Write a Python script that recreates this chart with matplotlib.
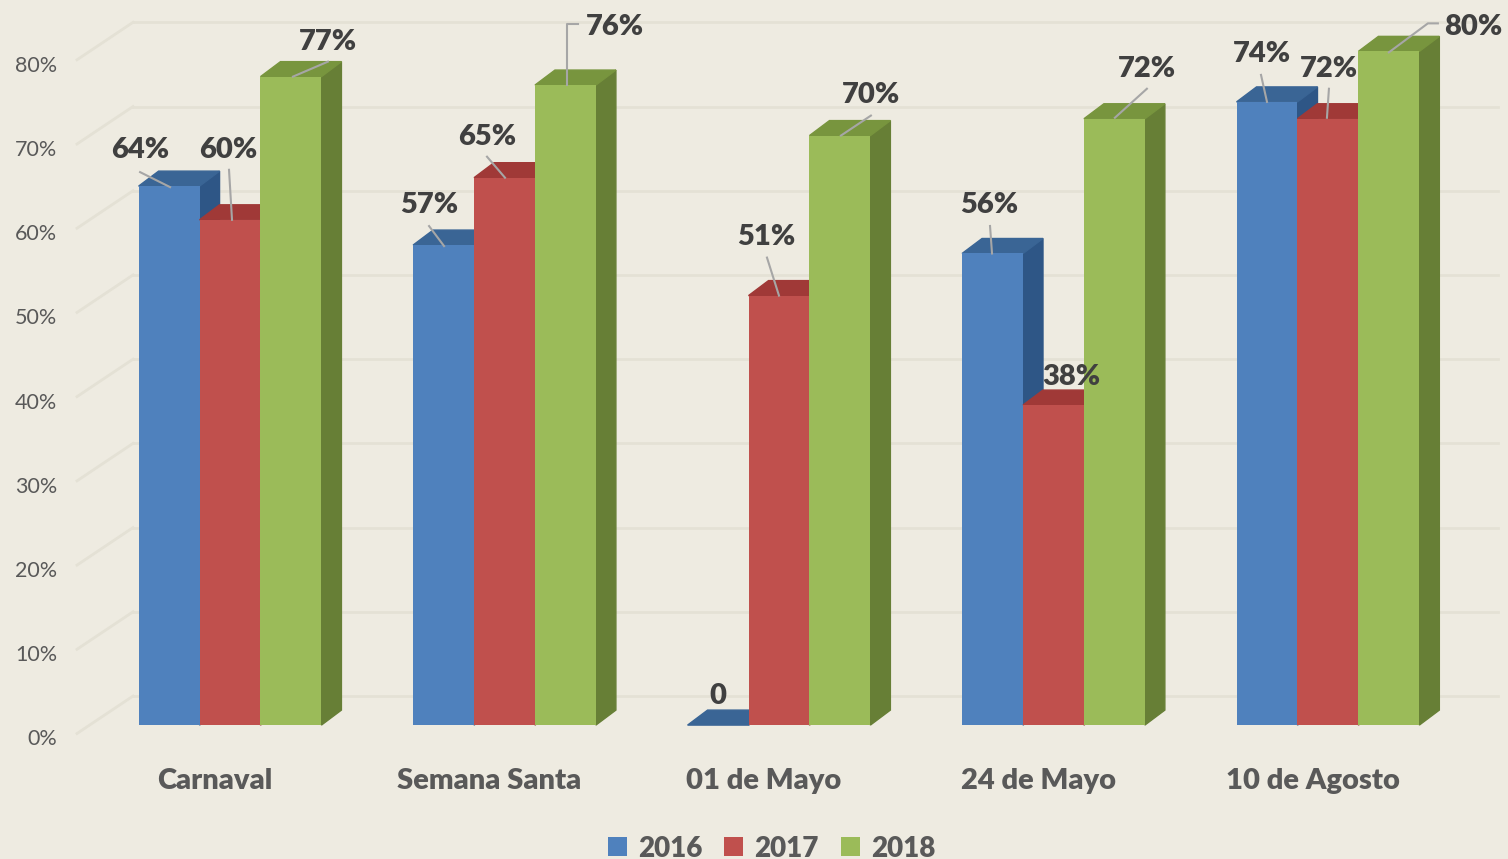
import matplotlib.pyplot as plt
import numpy as np
from matplotlib.patches import Polygon, Patch

plt.rcParams['font.family'] = ['Lato', 'DejaVu Sans']

# dados
categorias = ['Carnaval', 'Semana Santa', '01 de Mayo', '24 de Mayo', '10 de Agosto']
anos = ['2016', '2017', '2018']
valores_2016 = [64, 57, 0, 56, 74]
valores_2017 = [60, 65, 51, 38, 72]
valores_2018 = [77, 76, 70, 72, 80]
ticks_y = [0, 10, 20, 30, 40, 50, 60, 70, 80]

cores_frente = ['#4F81BD', '#C0504D', '#9BBB59']
cores_topo = ['#3A6595', '#A03937', '#78953E']
cores_lado = ['#2E5686', '#8A2E2B', '#677F36']

# posicao dos rotulos (pixels, relativo ao topo da barra)
rotulos_pos = [
    [(-29, -38), (-14.5, -42), (0, -31), (-3.5, -50.5), (-5, -50)],
    [(-2, -72), (-17.5, -43), (-13, -61), (17.5, -30), (1, -52)],
    [(37, -37), (49.5, -60), (31, -43), (32.5, -52), (84, -26)],
]
guias = [
    [[(-29, -14), (1, 1)], [(-14.5, -19), (0.5, 1)], None, [(-2.5, -27.5), (-0.5, 0)], [(-6, -27), (0, 0)]],
    [[(-1, -50), (2, 0)], [(-17.5, -21), (0.5, 0)], [(-12, -38), (0, 0)], None, [(1, -30), (-1, -1)]],
    [[(37, -15), (2, 0)], [(12.5, -61), (1.5, -61), (1.5, 0)], [(31, -20), (1, 0)],
     [(32.5, -30), (0.5, -1)], [(49, -28), (39, -28), (0, 1)]],
]

FUNDO = '#EEEBE1'
GRADE = '#E4E1D5'
PESO = 'heavy'
W, H = 1508, 859
fig = plt.figure(figsize=(W / 100, H / 100), dpi=100, facecolor=FUNDO)
ax = fig.add_axes([0, 0, 1, 1])
ax.set_facecolor(FUNDO)
x0, x1 = -0.838, 4.656
y0, y1 = -15.9, 86.1
ax.set_xlim(x0, x1)
ax.set_ylim(y0, y1)
ax.axis('off')

px_x = (x1 - x0) / W
px_y = (y1 - y0) / H

# paredes / grade
parede_frente = x0 + 77 * px_x
parede_tras = x0 + 133 * px_x
grade_fim = x0 + 1498 * px_x
for t in ticks_y:
    ax.plot([parede_tras, grade_fim], [t + 3.45, t + 3.45], color=GRADE, lw=2, zorder=1)
    ax.plot([parede_frente, parede_tras], [t - 1.0, t + 3.45], color=GRADE, lw=2, zorder=1)
    ax.text(x0 + 57 * px_x, t - 1.7, f'{t}%', ha='right', va='center',
            fontsize=15.5, color='#595959')

# barras 3D
largura = 0.222
prof_x = 20 * px_x
prof_y = 15 * px_y
series = [valores_2016, valores_2017, valores_2018]
for j, vals in enumerate(series):
    xs = np.arange(len(categorias)) + (j - 1) * largura
    ax.bar(xs, vals, largura, color=cores_frente[j], zorder=3 + 2 * j)
    for i, v in enumerate(vals):
        xl, xr = xs[i] - largura / 2, xs[i] + largura / 2
        ax.add_patch(Polygon([(xr, 0), (xr + prof_x, prof_y), (xr + prof_x, v + prof_y), (xr, v)],
                             closed=True, color=cores_lado[j], zorder=2 + 2 * j))
        ax.add_patch(Polygon([(xl, v), (xr, v), (xr + prof_x, v + prof_y), (xl + prof_x, v + prof_y)],
                             closed=True, color=cores_topo[j], zorder=2 + 2 * j))

        ox, oy = rotulos_pos[j][i]
        txt = f'{v}%' if v else '0'
        ax.text(xs[i] + ox * px_x, v - oy * px_y - 0.25, txt, ha='center', va='center',
                fontsize=21, fontweight=PESO, color='#404040', zorder=20)
        if guias[j][i]:
            gx = [xs[i] + p[0] * px_x for p in guias[j][i]]
            gy = [v - p[1] * px_y for p in guias[j][i]]
            ax.plot(gx, gy, color='#A6A6A6', lw=1.5, zorder=19)

# categorias (um pouco deslocadas para a esquerda, como no original)
for i, c in enumerate(categorias):
    ax.text(i - 15 * px_x, -6.6, c, ha='center', va='center', fontsize=21,
            fontweight=PESO, color='#595959')

handles = [Patch(facecolor=c) for c in cores_frente]
ax.legend(handles, anos, loc='center', bbox_to_anchor=(0.5116, 0.012), ncol=3, frameon=False,
          prop=dict(weight=PESO, size=20), labelcolor='#595959', handlelength=0.68,
          handleheight=0.68, handletextpad=0.4, columnspacing=0.8, borderpad=0)

fig.savefig('out.png', dpi=100, facecolor=FUNDO)
